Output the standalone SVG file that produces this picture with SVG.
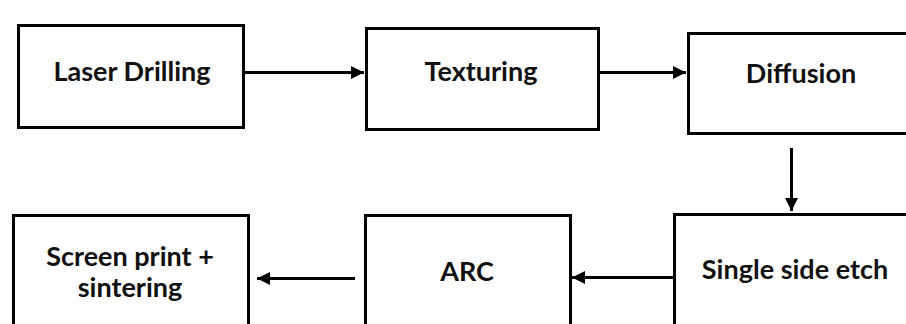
<svg xmlns="http://www.w3.org/2000/svg" width="906" height="324" viewBox="0 0 906 324">
<defs>
<style>
.box{fill:#fff;stroke:#000;stroke-width:3}
.lbl{font-family:Lato,"Open Sans","Liberation Sans",sans-serif;font-weight:bold;font-size:27px;fill:#111;text-anchor:middle}
.conn{stroke:#000;stroke-width:3;fill:none}
</style>
<marker id="ah" viewBox="0 0 10 10" refX="10" refY="5" markerWidth="14" markerHeight="13" markerUnits="userSpaceOnUse" orient="auto">
<path d="M0,0 L10,5 L0,10 z" fill="#000"/>
</marker>
</defs>
<rect width="906" height="324" fill="#fff"/>
<g id="laser-drilling"><rect class="box" x="18.5" y="25.5" width="225" height="102"/><text class="lbl" x="132" y="81">Laser Drilling</text></g>
<g id="texturing"><rect class="box" x="366.5" y="28.5" width="232" height="101"/><text class="lbl" x="481" y="81">Texturing</text></g>
<g id="diffusion"><rect class="box" x="688.5" y="33.5" width="240" height="100"/><text class="lbl" x="801" y="83">Diffusion</text></g>
<g id="single-side-etch"><rect class="box" x="674.5" y="214.5" width="250" height="130"/><text class="lbl" x="795" y="279">Single side etch</text></g>
<g id="arc"><rect class="box" x="365.5" y="215.5" width="205" height="130"/><text class="lbl" x="467" y="281">ARC</text></g>
<g id="screen-print"><rect class="box" x="13.5" y="215.5" width="235" height="130"/><text class="lbl" x="130" y="266">Screen print +</text><text class="lbl" x="130" y="297">sintering</text></g>
<g id="connectors">
<line class="conn" x1="245" y1="72.5" x2="364" y2="72.5" marker-end="url(#ah)"/>
<line class="conn" x1="600" y1="72.5" x2="686" y2="72.5" marker-end="url(#ah)"/>
<line class="conn" x1="791.5" y1="148" x2="791.5" y2="211" marker-end="url(#ah)"/>
<line class="conn" x1="673" y1="277.5" x2="572" y2="277.5" marker-end="url(#ah)"/>
<line class="conn" x1="355" y1="278.5" x2="257" y2="278.5" marker-end="url(#ah)"/>
</g>
</svg>
